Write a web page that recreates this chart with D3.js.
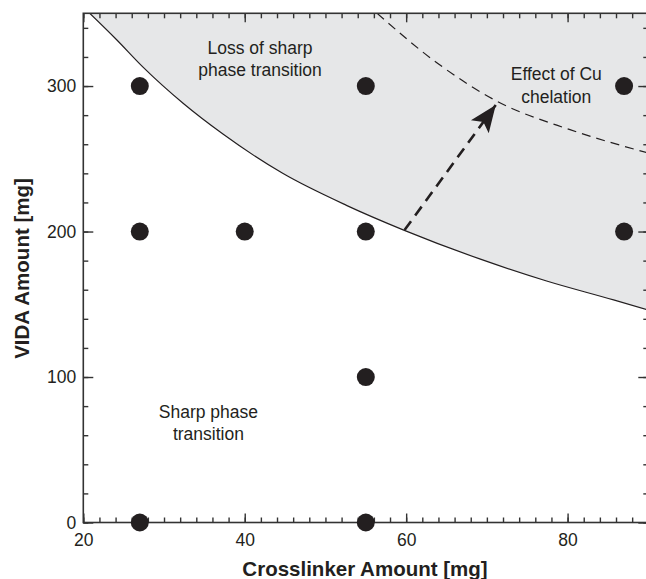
<!DOCTYPE html>
<html>
<head>
<meta charset="utf-8">
<script src="https://cdn.jsdelivr.net/npm/d3@7"></script>
<style>
  body { margin: 0; background: #fff; }
  svg { display: block; font-family: "Liberation Sans", Arial, sans-serif; }
</style>
</head>
<body>
<svg id="chart" width="646" height="579"></svg>
<script>
// samples [crosslinker mg, VIDA mg]
var samples = [
  [27, 300], [55, 300], [87, 300],
  [27, 200], [40, 200], [55, 200], [87, 200],
  [55, 100],
  [27, 0], [55, 0]
];

// boundary of the sharp transition region
var boundary = [
  [20.8, 350], [24.1, 332], [27.4, 313], [32.4, 288], [37.3, 267],
  [44.7, 240], [52.6, 218], [59.7, 201], [69.2, 181], [77.4, 166],
  [85.7, 153], [90, 146]
];

// shifted boundary after Cu chelation
var chelation = [
  [56.4, 350], [63.8, 316], [71.1, 290], [80.3, 270], [90, 254]
];

var arrowPts = [[59.8, 201], [71.1, 287]];

var xMajor = [20, 40, 60, 80];
var yMajor = [0, 100, 200, 300];
var xMinor = d3.range(20, 91, 2);
var yMinor = d3.range(0, 351, 20);

var labels = [
  {lines: ["Loss of sharp", "phase transition"], x: 41.9, y: 322},
  {lines: ["Effect of Cu", "chelation"], x: 78.6, y: 304},
  {lines: ["Sharp phase", "transition"], x: 35.5, y: 72}
];


var svg = d3.select("#chart");

var pLeft = 83.3, pRight = 648.3, pTop = 13.3, pBottom = 522.5;

var x = d3.scaleLinear().domain([20, 90]).range([pLeft, pRight]);
var y = d3.scaleLinear().domain([0, 350]).range([pBottom, pTop]);

var defs = svg.append("defs");

defs.append("clipPath")
    .attr("id", "plot")
  .append("rect")
    .attr("x", pLeft).attr("y", pTop)
    .attr("width", pRight - pLeft).attr("height", pBottom - pTop);

defs.append("marker")
    .attr("id", "head")
    .attr("markerUnits", "userSpaceOnUse")
    .attr("viewBox", "-28 -12 30 24")
    .attr("refX", 0).attr("refY", 0)
    .attr("markerWidth", 30).attr("markerHeight", 24)
    .attr("orient", "auto")
  .append("path")
    .attr("d", "M0,0L-27,-11L-21,0L-27,11Z")
    .attr("fill", "#231f20");

var plot = svg.append("g").attr("clip-path", "url(#plot)");

var curve = d3.curveMonotoneX;

plot.append("path")
    .datum(boundary)
    .attr("fill", "#e6e7e8")
    .attr("d", d3.area()
      .x(function(d) { return x(d[0]); })
      .y0(function(d) { return y(d[1]); })
      .y1(y(350))
      .curve(curve));

plot.append("path")
    .datum(boundary)
    .attr("fill", "none")
    .attr("stroke", "#231f20")
    .attr("stroke-width", 1.2)
    .attr("d", d3.line()
      .x(function(d) { return x(d[0]); })
      .y(function(d) { return y(d[1]); })
      .curve(curve));

plot.append("path")
    .datum(chelation)
    .attr("fill", "none")
    .attr("stroke", "#231f20")
    .attr("stroke-width", 1.2)
    .attr("stroke-dasharray", "9,6")
    .attr("d", d3.line()
      .x(function(d) { return x(d[0]); })
      .y(function(d) { return y(d[1]); })
      .curve(curve));

plot.append("path")
    .datum(arrowPts)
    .attr("fill", "none")
    .attr("stroke", "#231f20")
    .attr("stroke-width", 2.6)
    .attr("stroke-dasharray", "11,7")
    .attr("marker-end", "url(#head)")
    .attr("d", d3.line()
      .x(function(d) { return x(d[0]); })
      .y(function(d) { return y(d[1]); }));

/* annotations */
labels.forEach(function(l) {
  var t = svg.append("text")
      .attr("x", x(l.x))
      .attr("y", y(l.y))
      .attr("text-anchor", "middle")
      .attr("font-size", "17.5px")
      .attr("fill", "#231f20");
  l.lines.forEach(function(s, i) {
    t.append("tspan")
        .attr("x", x(l.x))
        .attr("dy", i == 0 ? 0 : "1.28em")
        .text(s);
  });
});

/* axes: inward ticks on all four sides */
function ticks(axis, values, size, fmt, pad) {
  return axis.tickValues(values).tickSize(-size).tickPadding(pad).tickFormat(fmt);
}
var none = function() { return ""; };

var gB = svg.append("g").attr("transform", "translate(0," + pBottom + ")");
gB.append("g").call(ticks(d3.axisBottom(x), xMinor, 5, none, 0));
gB.append("g").call(ticks(d3.axisBottom(x), xMajor, 9, d3.format("d"), 11));

var gT = svg.append("g").attr("transform", "translate(0," + pTop + ")");
gT.append("g").call(ticks(d3.axisTop(x), xMinor, 5, none, 0));
gT.append("g").call(ticks(d3.axisTop(x), xMajor, 9, none, 0));

var gL = svg.append("g").attr("transform", "translate(" + pLeft + ",0)");
gL.append("g").call(ticks(d3.axisLeft(y), yMinor, 5, none, 0));
gL.append("g").call(ticks(d3.axisLeft(y), yMajor, 10, d3.format("d"), 7));

var gR = svg.append("g").attr("transform", "translate(" + pRight + ",0)");
gR.append("g").call(ticks(d3.axisRight(y), yMinor, 5, none, 0));
gR.append("g").call(ticks(d3.axisRight(y), yMajor, 10, none, 0));

svg.selectAll(".domain").remove();
svg.selectAll(".tick line").attr("stroke", "#333").attr("stroke-width", 1.4);
svg.selectAll(".tick text")
    .attr("font-family", "Liberation Sans, Arial, sans-serif")
    .attr("font-size", "17.5px")
    .attr("fill", "#231f20");

svg.append("rect")
    .attr("x", pLeft).attr("y", pTop)
    .attr("width", pRight - pLeft).attr("height", pBottom - pTop)
    .attr("fill", "none")
    .attr("stroke", "#333")
    .attr("stroke-width", 1.6);

/* points, drawn over the frame so the ones at 0 are not cut */
svg.selectAll(".dot")
    .data(samples)
  .enter().append("circle")
    .attr("class", "dot")
    .attr("cx", function(d) { return x(d[0]); })
    .attr("cy", function(d) { return y(d[1]); })
    .attr("r", 9)
    .attr("fill", "#231f20");

/* axis titles */
svg.append("text")
    .attr("x", 365)
    .attr("y", 575.5)
    .attr("text-anchor", "middle")
    .attr("font-size", "20.5px")
    .attr("font-weight", "bold")
    .attr("fill", "#231f20")
    .text("Crosslinker Amount [mg]");

svg.append("text")
    .attr("transform", "translate(29," + 268.5 + ") rotate(-90)")
    .attr("text-anchor", "middle")
    .attr("font-size", "20.5px")
    .attr("font-weight", "bold")
    .attr("fill", "#231f20")
    .text("VIDA Amount [mg]");
</script>
</body>
</html>
